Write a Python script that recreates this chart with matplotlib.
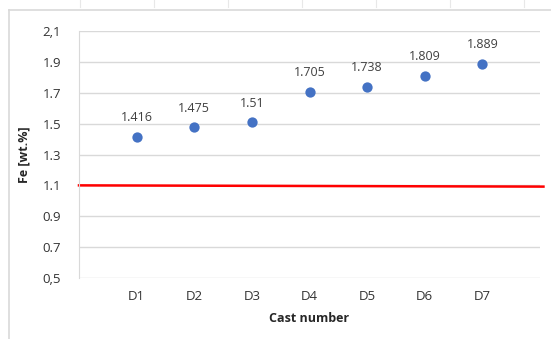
import matplotlib
matplotlib.use("Agg")
import matplotlib.pyplot as plt
from matplotlib.lines import Line2D

categories = ["D1", "D2", "D3", "D4", "D5", "D6", "D7"]
fe_values = [1.416, 1.475, 1.51, 1.705, 1.738, 1.809, 1.889]
value_labels = ["1.416", "1.475", "1.51", "1.705", "1.738", "1.809", "1.889"]
limit_value = [1.1, 1.092]
y_ticks = [0.5, 0.7, 0.9, 1.1, 1.3, 1.5, 1.7, 1.9, 2.1]
y_tick_labels = ["0,5", "0.7", "0.9", "1.1", "1.3", "1.5", "1.7", "1.9", "2,1"]

plt.rcParams['font.family'] = ['Open Sans', 'DejaVu Sans']

W, H = 551, 339
fig = plt.figure(figsize=(W / 100, H / 100), dpi=100)
fig.patch.set_facecolor("white")

# axes: left 79, right 540, top 31, bottom 278 (pixels)
ax = fig.add_axes([79 / W, 1 - 278 / H, (540 - 79) / W, (278 - 31) / H])

x = list(range(1, len(categories) + 1))
ax.set_xlim(0, 8)
ax.set_ylim(0.5, 2.1)

ax.set_yticks(y_ticks)
ax.set_yticklabels(y_tick_labels)
ax.set_xticks(x)
ax.set_xticklabels(categories)
ax.tick_params(axis="both", length=0, labelsize=9.5, colors="#333333")
ax.tick_params(axis="y", pad=13)
ax.tick_params(axis="x", pad=9)

ax.grid(axis="y", color="#d9d9d9", linewidth=1.0)
ax.set_axisbelow(True)
for s in ["top", "right", "bottom"]:
    ax.spines[s].set_visible(False)
ax.spines["left"].set_color("#d9d9d9")

# red limit line slightly beyond the plot area
ax.plot([0, 8.06], limit_value, color="#ff0000", linewidth=1.8, clip_on=False, zorder=2)

ax.scatter(x, fe_values, s=55, color="#4472c4", zorder=3, linewidths=0)
for xi, v, lab in zip(x, fe_values, value_labels):
    ax.annotate(lab, (xi, v), xytext=(0, 9), textcoords="offset points",
                ha="center", va="bottom", fontsize=9, color="#404040")

ax.set_xlabel("Cast number", fontsize=9, fontweight="bold", color="#262626", labelpad=6)
ax.set_ylabel("Fe [wt.%]", fontsize=9, fontweight="bold", color="#262626")
ax.yaxis.set_label_coords(-49 / 461, 0.5)

# outer chart border fragments (spreadsheet frame)
fig.add_artist(Line2D([9 / W, 1], [1 - 10 / H, 1 - 10 / H], transform=fig.transFigure,
                      color="#d9d9d9", linewidth=1.2))
fig.add_artist(Line2D([9 / W, 9 / W], [0, 1 - 10 / H], transform=fig.transFigure,
                      color="#d9d9d9", linewidth=1.2))
for px in [80, 154, 228, 302, 376, 450, 524]:
    fig.add_artist(Line2D([px / W, px / W], [1 - 7 / H, 1], transform=fig.transFigure,
                          color="#e8e8e8", linewidth=0.8))

fig.savefig("out.png", dpi=100)
